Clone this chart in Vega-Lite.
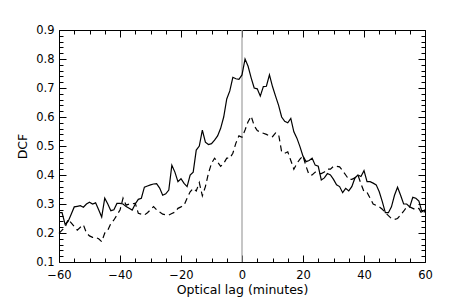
{
"$schema": "https://vega.github.io/schema/vega-lite/v6.json",
"width": 366, "height": 232,
"autosize": {"type": "none"},
"padding": {"left": 59, "top": 30, "right": 46, "bottom": 37},
"background": "white",
"config": {
 "view": {"stroke": "black", "strokeWidth": 1},
 "font": "DejaVu Sans",
 "axis": {"domain": false, "grid": false, "tickColor": "black", "labelColor": "black", "titleColor": "black", "labelFont": "DejaVu Sans", "titleFont": "DejaVu Sans", "labelFontSize": 11.5, "titleFontSize": 12.5, "titleFontWeight": "normal", "tickWidth": 1, "offset": 0, "labelFlush": false, "labelOverlap": false}
},
"datasets": {
 "solid": [
  {"lag":-60,"dcf":0.27},{"lag":-59,"dcf":0.27},{"lag":-58,"dcf":0.23},{"lag":-57,"dcf":0.24},{"lag":-56,"dcf":0.265},{"lag":-55,"dcf":0.29},{"lag":-54,"dcf":0.292},{"lag":-53,"dcf":0.294},{"lag":-52,"dcf":0.289},{"lag":-51,"dcf":0.3},{"lag":-50,"dcf":0.306},{"lag":-49,"dcf":0.3},{"lag":-48,"dcf":0.304},{"lag":-47,"dcf":0.28},{"lag":-46,"dcf":0.255},{"lag":-45,"dcf":0.32},{"lag":-44,"dcf":0.3},{"lag":-43,"dcf":0.277},{"lag":-42,"dcf":0.28},{"lag":-41,"dcf":0.302},{"lag":-40,"dcf":0.302},{"lag":-39,"dcf":0.3},{"lag":-38,"dcf":0.291},{"lag":-37,"dcf":0.285},{"lag":-36,"dcf":0.279},{"lag":-35,"dcf":0.3},{"lag":-34,"dcf":0.316},{"lag":-33,"dcf":0.32},{"lag":-32,"dcf":0.358},{"lag":-31,"dcf":0.362},{"lag":-30,"dcf":0.366},{"lag":-29,"dcf":0.369},{"lag":-28,"dcf":0.37},{"lag":-27,"dcf":0.355},{"lag":-26,"dcf":0.33},{"lag":-25,"dcf":0.335},{"lag":-24,"dcf":0.348},{"lag":-23,"dcf":0.434},{"lag":-22,"dcf":0.41},{"lag":-21,"dcf":0.377},{"lag":-20,"dcf":0.387},{"lag":-19,"dcf":0.371},{"lag":-18,"dcf":0.36},{"lag":-17,"dcf":0.4},{"lag":-16,"dcf":0.41},{"lag":-15,"dcf":0.486},{"lag":-14,"dcf":0.5},{"lag":-13,"dcf":0.555},{"lag":-12,"dcf":0.513},{"lag":-11,"dcf":0.505},{"lag":-10,"dcf":0.508},{"lag":-9,"dcf":0.52},{"lag":-8,"dcf":0.535},{"lag":-7,"dcf":0.561},{"lag":-6,"dcf":0.6},{"lag":-5,"dcf":0.662},{"lag":-4,"dcf":0.69},{"lag":-3,"dcf":0.737},{"lag":-2,"dcf":0.732},{"lag":-1,"dcf":0.73},{"lag":0,"dcf":0.745},{"lag":1,"dcf":0.8},{"lag":2,"dcf":0.775},{"lag":3,"dcf":0.735},{"lag":4,"dcf":0.7},{"lag":5,"dcf":0.697},{"lag":6,"dcf":0.672},{"lag":7,"dcf":0.705},{"lag":8,"dcf":0.706},{"lag":9,"dcf":0.745},{"lag":10,"dcf":0.705},{"lag":11,"dcf":0.672},{"lag":12,"dcf":0.64},{"lag":13,"dcf":0.6},{"lag":14,"dcf":0.585},{"lag":15,"dcf":0.58},{"lag":16,"dcf":0.595},{"lag":17,"dcf":0.549},{"lag":18,"dcf":0.527},{"lag":19,"dcf":0.498},{"lag":20,"dcf":0.465},{"lag":21,"dcf":0.446},{"lag":22,"dcf":0.45},{"lag":23,"dcf":0.458},{"lag":24,"dcf":0.434},{"lag":25,"dcf":0.43},{"lag":26,"dcf":0.383},{"lag":27,"dcf":0.39},{"lag":28,"dcf":0.405},{"lag":29,"dcf":0.4},{"lag":30,"dcf":0.385},{"lag":31,"dcf":0.366},{"lag":32,"dcf":0.36},{"lag":33,"dcf":0.339},{"lag":34,"dcf":0.354},{"lag":35,"dcf":0.345},{"lag":36,"dcf":0.36},{"lag":37,"dcf":0.389},{"lag":38,"dcf":0.4},{"lag":39,"dcf":0.395},{"lag":40,"dcf":0.415},{"lag":41,"dcf":0.377},{"lag":42,"dcf":0.377},{"lag":43,"dcf":0.372},{"lag":44,"dcf":0.366},{"lag":45,"dcf":0.342},{"lag":46,"dcf":0.308},{"lag":47,"dcf":0.27},{"lag":48,"dcf":0.27},{"lag":49,"dcf":0.29},{"lag":50,"dcf":0.33},{"lag":51,"dcf":0.358},{"lag":52,"dcf":0.33},{"lag":53,"dcf":0.3},{"lag":54,"dcf":0.3},{"lag":55,"dcf":0.29},{"lag":56,"dcf":0.323},{"lag":57,"dcf":0.32},{"lag":58,"dcf":0.31},{"lag":59,"dcf":0.273},{"lag":60,"dcf":0.28}
 ],
 "dashed": [
  {"lag":-60,"dcf":0.199},{"lag":-59,"dcf":0.21},{"lag":-58,"dcf":0.22},{"lag":-57,"dcf":0.247},{"lag":-56,"dcf":0.235},{"lag":-55,"dcf":0.222},{"lag":-54,"dcf":0.21},{"lag":-53,"dcf":0.22},{"lag":-52,"dcf":0.228},{"lag":-51,"dcf":0.2},{"lag":-50,"dcf":0.19},{"lag":-49,"dcf":0.185},{"lag":-48,"dcf":0.185},{"lag":-47,"dcf":0.18},{"lag":-46,"dcf":0.17},{"lag":-45,"dcf":0.2},{"lag":-44,"dcf":0.21},{"lag":-43,"dcf":0.233},{"lag":-42,"dcf":0.245},{"lag":-41,"dcf":0.262},{"lag":-40,"dcf":0.279},{"lag":-39,"dcf":0.32},{"lag":-38,"dcf":0.296},{"lag":-37,"dcf":0.3},{"lag":-36,"dcf":0.3},{"lag":-35,"dcf":0.303},{"lag":-34,"dcf":0.268},{"lag":-33,"dcf":0.265},{"lag":-32,"dcf":0.262},{"lag":-31,"dcf":0.27},{"lag":-30,"dcf":0.28},{"lag":-29,"dcf":0.291},{"lag":-28,"dcf":0.28},{"lag":-27,"dcf":0.272},{"lag":-26,"dcf":0.265},{"lag":-25,"dcf":0.263},{"lag":-24,"dcf":0.262},{"lag":-23,"dcf":0.267},{"lag":-22,"dcf":0.272},{"lag":-21,"dcf":0.285},{"lag":-20,"dcf":0.29},{"lag":-19,"dcf":0.296},{"lag":-18,"dcf":0.32},{"lag":-17,"dcf":0.342},{"lag":-16,"dcf":0.354},{"lag":-15,"dcf":0.345},{"lag":-14,"dcf":0.374},{"lag":-13,"dcf":0.328},{"lag":-12,"dcf":0.36},{"lag":-11,"dcf":0.406},{"lag":-10,"dcf":0.44},{"lag":-9,"dcf":0.458},{"lag":-8,"dcf":0.445},{"lag":-7,"dcf":0.43},{"lag":-6,"dcf":0.44},{"lag":-5,"dcf":0.458},{"lag":-4,"dcf":0.458},{"lag":-3,"dcf":0.475},{"lag":-2,"dcf":0.51},{"lag":-1,"dcf":0.535},{"lag":0,"dcf":0.53},{"lag":1,"dcf":0.555},{"lag":2,"dcf":0.584},{"lag":3,"dcf":0.603},{"lag":4,"dcf":0.57},{"lag":5,"dcf":0.553},{"lag":6,"dcf":0.548},{"lag":7,"dcf":0.544},{"lag":8,"dcf":0.54},{"lag":9,"dcf":0.535},{"lag":10,"dcf":0.532},{"lag":11,"dcf":0.545},{"lag":12,"dcf":0.54},{"lag":13,"dcf":0.48},{"lag":14,"dcf":0.475},{"lag":15,"dcf":0.48},{"lag":16,"dcf":0.45},{"lag":17,"dcf":0.42},{"lag":18,"dcf":0.44},{"lag":19,"dcf":0.455},{"lag":20,"dcf":0.466},{"lag":21,"dcf":0.43},{"lag":22,"dcf":0.4},{"lag":23,"dcf":0.4},{"lag":24,"dcf":0.41},{"lag":25,"dcf":0.405},{"lag":26,"dcf":0.405},{"lag":27,"dcf":0.41},{"lag":28,"dcf":0.42},{"lag":29,"dcf":0.42},{"lag":30,"dcf":0.43},{"lag":31,"dcf":0.43},{"lag":32,"dcf":0.428},{"lag":33,"dcf":0.415},{"lag":34,"dcf":0.4},{"lag":35,"dcf":0.385},{"lag":36,"dcf":0.385},{"lag":37,"dcf":0.39},{"lag":38,"dcf":0.4},{"lag":39,"dcf":0.37},{"lag":40,"dcf":0.342},{"lag":41,"dcf":0.34},{"lag":42,"dcf":0.32},{"lag":43,"dcf":0.3},{"lag":44,"dcf":0.295},{"lag":45,"dcf":0.29},{"lag":46,"dcf":0.282},{"lag":47,"dcf":0.27},{"lag":48,"dcf":0.26},{"lag":49,"dcf":0.25},{"lag":50,"dcf":0.247},{"lag":51,"dcf":0.25},{"lag":52,"dcf":0.262},{"lag":53,"dcf":0.275},{"lag":54,"dcf":0.29},{"lag":55,"dcf":0.29},{"lag":56,"dcf":0.285},{"lag":57,"dcf":0.28},{"lag":58,"dcf":0.285},{"lag":59,"dcf":0.265},{"lag":60,"dcf":0.275}
 ],
 "zero": [{"lag": 0}]
},
"resolve": {"axis": {"x": "independent", "y": "independent"}},
"layer": [
 {
  "data": {"name": "zero"},
  "mark": {"type": "rule", "color": "#a0a0a0", "strokeWidth": 1.2},
  "encoding": {
   "x": {"field": "lag", "type": "quantitative", "scale": {"domain": [-60, 60], "nice": false}, "axis": null}
  }
 },
 {
  "data": {"name": "solid"},
  "mark": {"type": "line", "color": "black", "strokeWidth": 1.2},
  "encoding": {
   "x": {"field": "lag", "type": "quantitative", "scale": {"domain": [-60, 60], "nice": false},
     "axis": {"orient": "bottom", "values": [-60, -40, -20, 0, 20, 40, 60], "tickSize": -7, "labelPadding": 14, "title": "Optical lag (minutes)", "titlePadding": 3}},
   "y": {"field": "dcf", "type": "quantitative", "scale": {"domain": [0.1, 0.9], "nice": false, "zero": false},
     "axis": {"orient": "left", "values": [0.1, 0.2, 0.3, 0.4, 0.5, 0.6, 0.7, 0.8, 0.9], "format": ".1f", "tickSize": -7, "labelPadding": 12, "title": "DCF", "titlePadding": 6}}
  }
 },
 {
  "data": {"name": "dashed"},
  "mark": {"type": "line", "color": "black", "strokeWidth": 1.2, "strokeDash": [6, 4]},
  "encoding": {
   "x": {"field": "lag", "type": "quantitative", "scale": {"domain": [-60, 60], "nice": false},
     "axis": {"orient": "bottom", "values": [-55, -50, -45, -35, -30, -25, -15, -10, -5, 5, 10, 15, 25, 30, 35, 45, 50, 55], "tickSize": -4, "labels": false, "title": null}},
   "y": {"field": "dcf", "type": "quantitative", "scale": {"domain": [0.1, 0.9], "nice": false, "zero": false},
     "axis": {"orient": "left", "values": [0.12, 0.14, 0.16, 0.18, 0.22, 0.24, 0.26, 0.28, 0.32, 0.34, 0.36, 0.38, 0.42, 0.44, 0.46, 0.48, 0.52, 0.54, 0.56, 0.58, 0.62, 0.64, 0.66, 0.68, 0.72, 0.74, 0.76, 0.78, 0.82, 0.84, 0.86, 0.88], "tickSize": -4, "labels": false, "title": null}}
  }
 },
 {
  "data": {"name": "solid"},
  "mark": {"type": "line", "strokeOpacity": 0},
  "encoding": {
   "x": {"field": "lag", "type": "quantitative", "scale": {"domain": [-60, 60], "nice": false},
     "axis": {"orient": "top", "values": [-60, -40, -20, 0, 20, 40, 60], "tickSize": -7, "labels": false, "title": null}},
   "y": {"field": "dcf", "type": "quantitative", "scale": {"domain": [0.1, 0.9], "nice": false, "zero": false},
     "axis": {"orient": "right", "values": [0.1, 0.2, 0.3, 0.4, 0.5, 0.6, 0.7, 0.8, 0.9], "tickSize": -7, "labels": false, "title": null}}
  }
 },
 {
  "data": {"name": "dashed"},
  "mark": {"type": "line", "strokeOpacity": 0},
  "encoding": {
   "x": {"field": "lag", "type": "quantitative", "scale": {"domain": [-60, 60], "nice": false},
     "axis": {"orient": "top", "values": [-55, -50, -45, -35, -30, -25, -15, -10, -5, 5, 10, 15, 25, 30, 35, 45, 50, 55], "tickSize": -4, "labels": false, "title": null}},
   "y": {"field": "dcf", "type": "quantitative", "scale": {"domain": [0.1, 0.9], "nice": false, "zero": false},
     "axis": {"orient": "right", "values": [0.12, 0.14, 0.16, 0.18, 0.22, 0.24, 0.26, 0.28, 0.32, 0.34, 0.36, 0.38, 0.42, 0.44, 0.46, 0.48, 0.52, 0.54, 0.56, 0.58, 0.62, 0.64, 0.66, 0.68, 0.72, 0.74, 0.76, 0.78, 0.82, 0.84, 0.86, 0.88], "tickSize": -4, "labels": false, "title": null}}
  }
 }
]
}
